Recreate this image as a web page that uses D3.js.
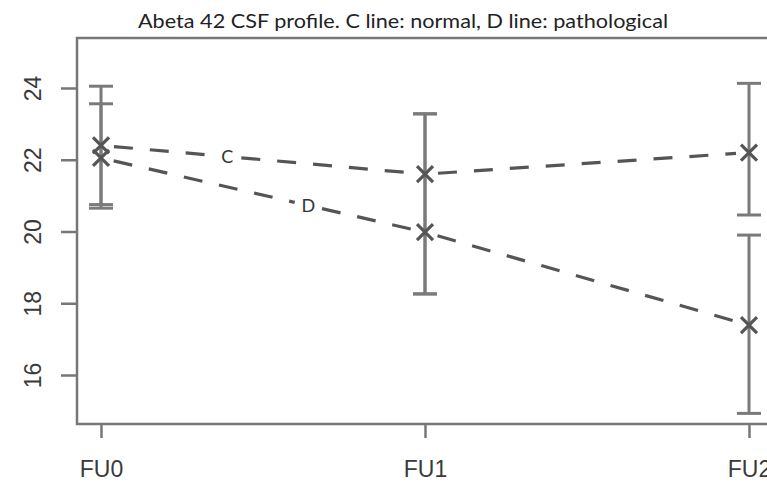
<!DOCTYPE html>
<html lang="en">
<head>
<meta charset="UTF-8">
<title>Abeta 42 CSF profile</title>
<script src="https://cdn.jsdelivr.net/npm/d3@7"></script>
<style>
	body { margin: 0; background: #fff; }
	.axis path.domain { display: none; }
	.axis line { stroke: #777; stroke-width: 2.5; }
	.axis text { fill: #3a3a3a; font-family: "Liberation Sans", Arial, sans-serif; font-size: 23px; }
	.title { fill: #222; font-family: Lato, "Open Sans", sans-serif; font-size: 19px; }
	.lbl { fill: #333; font-family: Lato, "Open Sans", sans-serif; font-size: 18px; }
</style>
</head>
<body>
<div id="container"></div>
<script>
	// visits on the x axis
	var visits = ["FU0", "FU1", "FU2"];
	var yTicks = [16, 18, 20, 22, 24];

	// C line (normal): means and error bar ends
	var cMean = [22.4, 21.6, 22.2];
	var cLow  = [20.65, 18.26, 20.46];
	var cHigh = [24.05, 23.28, 24.13];

	// D line (pathological)
	var dMean = [22.05, 19.98, 17.39];
	var dLow  = [20.75, 18.26, 14.93];
	var dHigh = [23.56, 23.28, 19.9];

	var width = 767, height = 482;
	var box = { left: 77, top: 38, bottom: 424, right: 790 };

	var svg = d3.select("#container").append("svg")
		.attr("width", width)
		.attr("height", height);

	var x = d3.scalePoint()
		.domain(visits)
		.range([101, 749]);

	var y = d3.scaleLinear()
		.domain([16, 24])
		.range([375, 88]);

	// title
	svg.append("text")
		.attr("class", "title")
		.attr("x", 138)
		.attr("y", 28)
		.attr("textLength", 530)
		.attr("lengthAdjust", "spacingAndGlyphs")
		.text("Abeta 42 CSF profile. C line: normal, D line: pathological");

	// plot box
	svg.append("rect")
		.attr("x", box.left)
		.attr("y", box.top)
		.attr("width", box.right - box.left)
		.attr("height", box.bottom - box.top)
		.attr("fill", "none")
		.attr("stroke", "#777")
		.attr("stroke-width", 2.5);

	// y axis
	var gy = svg.append("g")
		.attr("class", "axis")
		.attr("transform", "translate(" + box.left + ",0)")
		.call(d3.axisLeft(y).tickValues(yTicks).tickSize(16).tickFormat(d3.format("d")));
	gy.selectAll("text")
		.attr("x", 0).attr("y", 0).attr("dy", 0)
		.attr("text-anchor", "middle")
		.attr("transform", "translate(-36,0) rotate(-90)");

	// x axis
	var gx = svg.append("g")
		.attr("class", "axis")
		.attr("transform", "translate(0," + box.bottom + ")")
		.call(d3.axisBottom(x).tickSize(14));
	gx.selectAll("text")
		.attr("y", 53).attr("dy", 0);

	var series = [
		{ name: "C", mean: cMean, low: cLow, high: cHigh },
		{ name: "D", mean: dMean, low: dLow, high: dHigh }
	];

	// error bars
	var capW = 12;
	series.forEach(function(s) {
		var g = svg.append("g").attr("class", "err-" + s.name);
		visits.forEach(function(v, i) {
			var cx = x(v);
			g.append("line")
				.attr("x1", cx).attr("x2", cx)
				.attr("y1", y(s.low[i])).attr("y2", y(s.high[i]))
				.attr("stroke", "#7a7a7a").attr("stroke-width", 3);
			[s.low[i], s.high[i]].forEach(function(val) {
				g.append("line")
					.attr("x1", cx - capW).attr("x2", cx + capW)
					.attr("y1", y(val)).attr("y2", y(val))
					.attr("stroke", "#7a7a7a").attr("stroke-width", 3);
			});
		});
	});

	// series labels sit on the first segment, as a fraction of its length
	var labelAt = { C: 0.39, D: 0.64 };
	var gap = 13, labelGap = 14;

	function dashed(a, b) {
		svg.append("line")
			.attr("x1", a[0]).attr("y1", a[1])
			.attr("x2", b[0]).attr("y2", b[1])
			.attr("stroke", "#555")
			.attr("stroke-width", 3.2)
			.attr("stroke-dasharray", "19,17");
	}

	// dashed lines with a gap round each point (like R type="b")
	series.forEach(function(s) {
		var pts = visits.map(function(v, i) { return [x(v), y(s.mean[i])]; });
		for (var i = 0; i < pts.length - 1; i++) {
			var a = pts[i], b = pts[i + 1];
			var dx = b[0] - a[0], dy = b[1] - a[1];
			var len = Math.sqrt(dx * dx + dy * dy);
			var ux = dx / len, uy = dy / len;
			var p0 = [a[0] + ux * gap, a[1] + uy * gap];
			var p1 = [b[0] - ux * gap, b[1] - uy * gap];
			if (i === 0) {
				var t = labelAt[s.name];
				var lx = a[0] + t * dx, ly = a[1] + t * dy;
				dashed(p0, [lx - ux * labelGap, ly - uy * labelGap]);
				dashed([lx + ux * labelGap, ly + uy * labelGap], p1);
				svg.append("text")
					.attr("class", "lbl")
					.attr("x", lx).attr("y", ly)
					.attr("dy", "0.36em")
					.attr("text-anchor", "middle")
					.text(s.name);
			} else {
				dashed(p0, p1);
			}
		}
	});

	// x markers
	var m = 8;
	series.forEach(function(s) {
		visits.forEach(function(v, i) {
			var cx = x(v), cy = y(s.mean[i]);
			svg.append("path")
				.attr("d", "M" + (cx - m) + "," + (cy - m) + "L" + (cx + m) + "," + (cy + m) +
					"M" + (cx - m) + "," + (cy + m) + "L" + (cx + m) + "," + (cy - m))
				.attr("stroke", "#555")
				.attr("stroke-width", 3.2)
				.attr("fill", "none");
		});
	});
</script>
</body>
</html>
